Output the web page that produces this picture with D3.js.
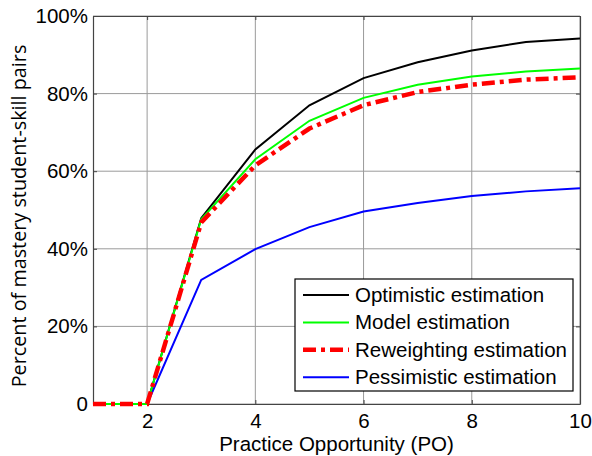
<!DOCTYPE html>
<html>
<head>
<meta charset="utf-8">
<script src="https://cdn.jsdelivr.net/npm/d3@7"></script>
<style>
  body { margin: 0; background: #fff; }
  svg { display: block; font-family: "Liberation Sans", Arial, sans-serif; }
</style>
</head>
<body>
<div id="chart"></div>
<script>
// practice opportunities
const po = [1, 2, 3, 4, 5, 6, 7, 8, 9, 10];

// percent of mastery pairs
const optimistic  = [0, 0, 47.9, 65.6, 77.0, 84.0, 88.1, 91.1, 93.3, 94.2];
const model       = [0, 0, 47.6, 63.1, 73.0, 78.9, 82.3, 84.4, 85.7, 86.5];
const reweighting = [0, 0, 46.8, 61.5, 71.0, 77.0, 80.4, 82.3, 83.6, 84.2];
const pessimistic = [0, 0, 32.0, 39.9, 45.6, 49.6, 51.8, 53.6, 54.8, 55.6];

const seriesNames = ["Optimistic estimation", "Model estimation", "Reweighting estimation", "Pessimistic estimation"];
const xTicks = [2, 4, 6, 8, 10];
const yTicks = [0, 20, 40, 60, 80, 100];

const width = 592, height = 456;
const margin = {top: 16, right: 12, bottom: 52, left: 93};
const fs = "20.5px";

const svg = d3.select("#chart").append("svg")
    .attr("width", width)
    .attr("height", height);

const x = d3.scaleLinear().domain([1, 10]).range([margin.left, width - margin.right]);
const y = d3.scaleLinear().domain([0, 100]).range([height - margin.bottom, margin.top]);

// grid
const grid = svg.append("g").attr("stroke", "#9a9a9a").attr("stroke-width", 1);
grid.selectAll(".gx").data(xTicks).join("line")
    .attr("x1", d => x(d)).attr("x2", d => x(d))
    .attr("y1", y(0)).attr("y2", y(100));
grid.selectAll(".gy").data(yTicks).join("line")
    .attr("x1", x(1)).attr("x2", x(10))
    .attr("y1", d => y(d)).attr("y2", d => y(d));

// axes (matlab-ish box with inward ticks)
const fmtY = d => d === 0 ? "0" : d + "%";
const axisB = svg.append("g").attr("transform", `translate(0,${y(0)})`)
    .call(d3.axisBottom(x).tickValues(xTicks).tickSize(-4).tickPadding(9).tickSizeOuter(0));
const axisT = svg.append("g").attr("transform", `translate(0,${y(100)})`)
    .call(d3.axisTop(x).tickValues(xTicks).tickSize(-4).tickFormat("").tickSizeOuter(0));
const axisL = svg.append("g").attr("transform", `translate(${x(1)},0)`)
    .call(d3.axisLeft(y).tickValues(yTicks).tickFormat(fmtY).tickSize(-4).tickPadding(5).tickSizeOuter(0));
const axisR = svg.append("g").attr("transform", `translate(${x(10)},0)`)
    .call(d3.axisRight(y).tickValues(yTicks).tickFormat("").tickSize(-4).tickSizeOuter(0));

[axisB, axisT, axisL, axisR].forEach(a => {
  a.selectAll("path").attr("stroke", "#444").attr("stroke-width", 1.2);
  a.selectAll("line").attr("stroke", "#444");
  a.selectAll("text").attr("fill", "#000").style("font-size", fs)
    .style("font-family", "'Liberation Sans', Arial, sans-serif");
});

// lines
const series = [
  {name: seriesNames[0], values: optimistic,  color: "#000000", w: 2,   dash: null},
  {name: seriesNames[1], values: model,       color: "#00ff00", w: 2,   dash: null},
  {name: seriesNames[2], values: reweighting, color: "#ff0000", w: 4.5, dash: "13,5,4,5"},
  {name: seriesNames[3], values: pessimistic, color: "#0000ff", w: 2,   dash: null}
];

const line = d3.line().x((d, i) => x(po[i])).y(d => y(d));

// draw order: blue under, then black, green, red on top
[3, 0, 1, 2].forEach(k => {
  const s = series[k];
  svg.append("path")
      .datum(s.values)
      .attr("fill", "none")
      .attr("stroke", s.color)
      .attr("stroke-width", s.w)
      .attr("stroke-dasharray", s.dash)
      .attr("stroke-linejoin", "miter")
      .attr("d", line);
});

// legend
const lg = svg.append("g").attr("transform", "translate(295,279)");
lg.append("rect")
    .attr("width", 278).attr("height", 112)
    .attr("fill", "#fff").attr("stroke", "#000").attr("stroke-width", 1.2);
series.forEach((s, i) => {
  const yy = 16 + i * 27.4;
  lg.append("line")
      .attr("x1", 8).attr("x2", 54)
      .attr("y1", yy).attr("y2", yy)
      .attr("stroke", s.color)
      .attr("stroke-width", s.w)
      .attr("stroke-dasharray", s.dash);
  lg.append("text")
      .attr("x", 60).attr("y", yy + 7)
      .style("font-size", fs)
      .text(s.name);
});

// axis labels
svg.append("text")
    .attr("x", (x(1) + x(10)) / 2)
    .attr("y", 451)
    .attr("text-anchor", "middle")
    .style("font-size", fs)
    .text("Practice Opportunity (PO)");

svg.append("text")
    .attr("transform", "translate(25.5,216) rotate(-90)")
    .attr("text-anchor", "middle")
    .style("font-family", "'Open Sans', sans-serif")
    .style("font-size", "19.8px")
    .text("Percent of mastery student-skill pairs");
</script>
</body>
</html>
